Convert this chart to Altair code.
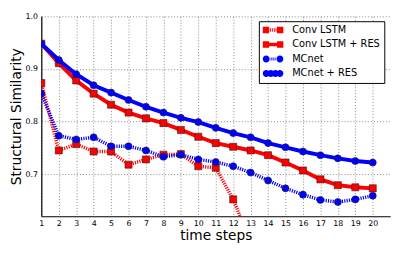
import altair as alt
import pandas as pd

steps = list(range(1, 21))
series_names = ["Conv LSTM", "Conv LSTM + RES", "MCnet", "MCnet + RES"]

conv_lstm_steps = list(range(1, 14))
conv_lstm = [0.873, 0.745, 0.757, 0.743, 0.743, 0.718, 0.728, 0.737, 0.738, 0.715, 0.712, 0.652, 0.57]
conv_lstm_res = [0.948, 0.911, 0.878, 0.853, 0.832, 0.817, 0.806, 0.797, 0.784, 0.771,
                 0.759, 0.752, 0.745, 0.736, 0.722, 0.707, 0.690, 0.679, 0.675, 0.673]
mcnet = [0.853, 0.773, 0.766, 0.770, 0.753, 0.753, 0.745, 0.733, 0.737, 0.728,
         0.723, 0.715, 0.703, 0.688, 0.673, 0.661, 0.651, 0.647, 0.652, 0.659]
mcnet_res = [0.948, 0.917, 0.890, 0.869, 0.855, 0.841, 0.828, 0.817, 0.807, 0.799,
             0.788, 0.778, 0.770, 0.759, 0.751, 0.743, 0.736, 0.730, 0.725, 0.722]

colors = ["#ff0000", "#ff0000", "#0000ff", "#0000ff"]
dashed = [True, False, True, False]
shapes = ["square", "square", "circle", "circle"]
x_ticks = list(range(1, 21))
y_ticks = [0.7, 0.8, 0.9, 1.0]

rows = []
for name, xs, ys in [
    ("Conv LSTM", conv_lstm_steps, conv_lstm),
    ("Conv LSTM + RES", steps, conv_lstm_res),
    ("MCnet", steps, mcnet),
    ("MCnet + RES", steps, mcnet_res),
]:
    for x, y in zip(xs, ys):
        rows.append({"series": name, "step": x, "ssim": y})
df = pd.DataFrame(rows)


def circ(cx, r=0.7):
    return f"M{cx - r},0A{r},{r} 0 1,0 {cx + r},0A{r},{r} 0 1,0 {cx - r},0Z"


def rect(x0, x1, h):
    return f"M{x0},{-h}L{x1},{-h}L{x1},{h}L{x0},{h}Z"


sq_pair = rect(-1.0, 0.3, 0.65) + rect(1.9, 3.2, 0.65)
leg_paths = [
    sq_pair + "".join(rect(a, a + 0.2, 0.35) for a in [0.45, 0.85, 1.25, 1.6]),
    sq_pair + rect(0.3, 1.9, 0.35),
    circ(-0.3) + circ(2.5) + "".join(rect(a, a + 0.2, 0.3) for a in [0.6, 1.0, 1.4]),
    circ(-0.3) + circ(0.63) + circ(1.57) + circ(2.5),
]

xs = alt.Scale(domain=[1, 21], nice=False, zero=False)
ys = alt.Scale(domain=[0.62, 1.0], nice=False, zero=False)

x_enc = alt.X("step:Q", scale=xs, title="time steps",
              axis=alt.Axis(values=x_ticks, format="d", labelFontSize=8, titleFontSize=14,
                            titlePadding=2, labelPadding=3, ticks=False, labelFlush=False,
                            grid=True, gridDash=[1, 2], gridColor="#888888",
                            domainColor="#000000", domainWidth=1.2,
                            labelColor="#000000", titleColor="#000000",
                            titleFontWeight="normal", labelFont="DejaVu Sans",
                            titleFont="DejaVu Sans"))
y_enc = alt.Y("ssim:Q", scale=ys, title="Structural Similarity",
              axis=alt.Axis(values=y_ticks, format=".1f", labelFontSize=8, titleFontSize=14,
                            titlePadding=2, labelPadding=4, ticks=False, labelFlush=False,
                            grid=True, gridDash=[1, 2], gridColor="#888888",
                            domainColor="#000000", domainWidth=1.2,
                            labelColor="#000000", titleColor="#000000",
                            titleFontWeight="normal", labelFont="DejaVu Sans",
                            titleFont="DejaVu Sans"))

base = alt.Chart(df)
layers = []
for name, col, dsh, shp in zip(series_names, colors, dashed, shapes):
    sub = base.transform_filter(alt.datum.series == name)
    line_kwargs = dict(color=col, strokeWidth=3.5 if dsh else 4, clip=True)
    if dsh:
        line_kwargs["strokeDash"] = [1.2, 1.2]
    layers.append(sub.mark_line(**line_kwargs).encode(x=x_enc, y=y_enc))
    layers.append(sub.mark_point(filled=True, shape=shp, size=52, color=col, stroke="#222222",
                                 strokeWidth=0.6, opacity=1, clip=True)
                  .encode(x=x_enc, y=y_enc))

# legend-only layer: no rows pass the filter, the legend comes from the fixed scale domain
legend_layer = base.transform_filter(alt.datum.step > 100).mark_point(
    filled=True, opacity=1, clip=True).encode(
    x=x_enc, y=y_enc,
    color=alt.Color("series:N", scale=alt.Scale(domain=series_names, range=colors),
                    legend=alt.Legend(title=None, orient="none", legendX=222, legendY=5,
                                      strokeColor="#000000", fillColor="#ffffff",
                                      padding=4, labelFontSize=10, labelFont="DejaVu Sans",
                                      labelColor="#000000", symbolSize=100,
                                      labelOffset=20, rowPadding=4.8,
                                      symbolStrokeWidth=0, symbolOpacity=1)),
    shape=alt.Shape("series:N", scale=alt.Scale(domain=series_names, range=leg_paths)),
)

chart = alt.layer(*layers, legend_layer).properties(
    width=356, height=204,
    autosize=alt.AutoSizeParams(type="none"),
    padding={"left": 34, "top": 6, "right": 9, "bottom": 33},
).configure_view(strokeWidth=0)

chart.save("out.html", embed_options={"renderer": "svg", "actions": False})
